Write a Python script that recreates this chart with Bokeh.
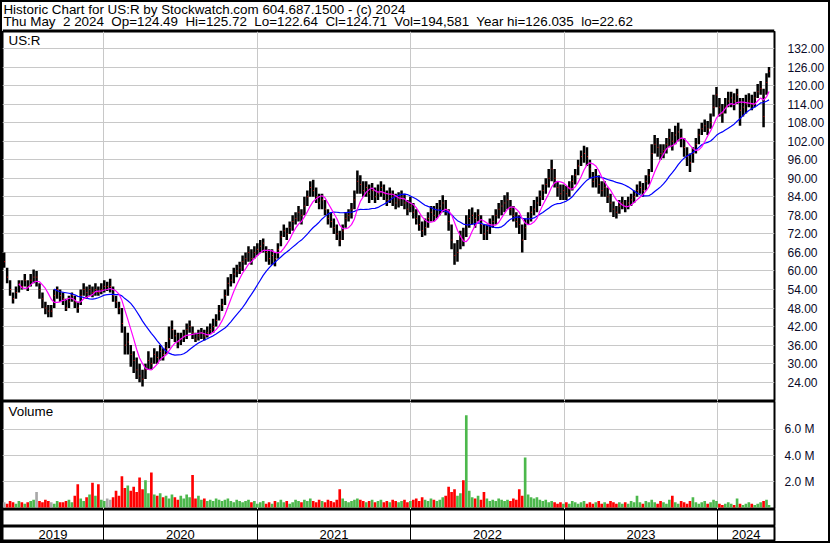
import pandas as pd
from bokeh.plotting import figure
from bokeh.layouts import column
from bokeh.models import Range1d, FixedTicker, ColumnDataSource, NumeralTickFormatter, Span
from bokeh.embed import file_html
from bokeh.resources import INLINE
from bokeh.core.properties import value

# ---------------- data (weekly) ----------------
first_week = "2019-05-10"
last_day = "2024-05-02"
view_start = "2019-05-06"
view_end = "2024-05-15"

closes = [63, 58, 54, 51, 53, 56, 55, 57, 55, 57,
          58, 58, 54, 51, 48, 47, 47, 52, 54, 52,
          51, 48, 50, 52, 50, 48, 52, 54, 53, 54,
          53, 54, 53, 54, 55, 55, 55, 52, 50, 48,
          43, 36, 37, 33, 31, 28, 26, 25, 28, 31,
          30, 33, 32, 34, 33, 35, 38, 41, 39, 37,
          38, 39, 41, 42, 40, 38, 39, 40, 39, 40,
          41, 42, 44, 47, 49, 52, 56, 57, 59, 60,
          61, 63, 64, 66, 64, 66, 67, 68, 69, 66,
          64, 65, 64, 67, 71, 73, 72, 74, 76, 77,
          79, 78, 81, 84, 87, 86, 84, 82, 83, 80,
          77, 76, 74, 72, 70, 73, 77, 78, 80, 83,
          89, 88, 86, 87, 85, 86, 84, 85, 87, 85,
          83, 85, 84, 82, 83, 84, 82, 80, 81, 79,
          77, 75, 73, 74, 77, 79, 78, 80, 81, 82,
          80, 76, 70, 65, 66, 71, 70, 75, 77, 78,
          77, 78, 75, 72, 73, 75, 76, 78, 80, 81,
          82, 83, 80, 78, 76, 75, 70, 74, 77, 79,
          80, 82, 84, 86, 88, 90, 93, 90, 87, 85,
          86, 85, 87, 89, 91, 94, 97, 98, 97, 93,
          89, 90, 88, 86, 87, 84, 82, 80, 79, 81,
          82, 81, 82, 83, 84, 86, 87, 86, 89, 91,
          98, 101, 100, 98, 99, 101, 103, 102, 104, 105,
          103, 100, 97, 95, 98, 101, 104, 106, 107, 106,
          108, 113, 117, 113, 111, 113, 115, 116, 115, 117,
          112, 113, 114, 115, 114, 116, 118, 119, 110, 121,
          124.71]

highs = [66, 61, 57, 53, 55, 57, 57, 59, 57, 59,
         60.5, 60, 56, 53, 50, 49, 49, 54, 55, 54,
         53, 51, 52, 53, 52, 50, 54, 56, 55, 55.5,
         55, 56, 55, 56, 57, 56.5, 57.5, 55, 52, 50,
         48, 42, 40, 36, 34, 32, 30, 28, 30, 34,
         32, 35, 34, 36, 35, 37, 42, 44, 41, 40,
         40, 41, 43, 44, 42, 40, 41, 41.5, 41, 42,
         43, 44.5, 46, 49, 51, 54, 58, 59, 61, 62,
         63, 65, 66, 68, 67, 68, 69, 70, 70.5, 68,
         67, 67, 66, 69, 73, 75, 74, 76, 78, 79,
         81, 80, 84, 86, 89, 89.5, 87, 85, 85, 83,
         80, 79, 77, 75, 73, 75, 79, 80, 82, 86,
         92.5, 91, 89, 89, 88, 88.5, 87, 88, 89, 88,
         86, 87, 86, 85, 85.5, 86, 85, 83, 84, 82,
         80, 78, 76, 77, 79, 81, 81, 82, 83, 84.5,
         83, 80, 75, 69, 70, 73, 74, 78, 80, 80.5,
         79, 80, 78, 75, 75, 77, 78, 80, 82, 83,
         84.5, 85.5, 83, 81, 79, 78, 75, 77, 79, 81,
         83, 84, 86, 88, 90, 93, 96, 93, 89, 88,
         88, 87.5, 89, 91, 93, 96, 99, 100.5, 100, 96,
         92, 93, 91, 89, 89, 87, 85, 82.5, 81, 83,
         84, 83, 84, 85, 86, 88, 89, 88.5, 91, 93,
         101, 104, 103, 101, 101, 103, 106, 105, 107, 108,
         106, 103, 100, 98, 100, 103, 106, 108, 109, 108.5,
         111, 117, 119.5, 116, 114, 116, 118, 118, 117.5, 119,
         116, 116, 117, 117.5, 117, 118, 120.5, 121.5, 119, 124,
         126]

lows = [61, 56, 52, 49.5, 51, 53, 54, 55, 53.5, 55,
        56, 55, 51, 48, 46, 45, 45, 48, 51, 50,
        49, 47, 48, 50, 48, 46.5, 49, 52, 51, 52,
        51.5, 52, 52, 52.5, 53, 53.5, 53, 50, 48, 46,
        40, 33, 33, 29, 27, 25, 24, 22.6, 25, 28,
        28, 30, 30, 31, 31, 33, 35, 38, 37, 35,
        36, 37, 38, 40, 38, 37, 37.5, 38, 37.5, 38.5,
        39.5, 40, 42, 44, 47, 49, 52, 55, 56, 58,
        59, 60, 62, 63, 62, 64, 65, 66, 66, 63,
        62, 62, 61.5, 64, 68, 71, 70, 72, 73, 75,
        76, 75, 78, 81, 84, 84, 82, 80, 80, 78,
        75, 74, 72, 70, 68, 70, 74, 76, 77, 80,
        85, 85, 84, 84, 82, 83, 82, 83, 84, 83,
        81, 82, 81, 80, 80.5, 81, 80, 78, 79, 77,
        75, 73, 71, 71.5, 74, 76, 76, 77, 78, 79,
        78, 73, 67, 62, 63, 67, 68, 71, 74, 75,
        74, 76, 72, 70, 70, 72, 74, 75, 77, 78,
        79, 80, 78, 76, 74, 72, 66, 70, 75, 76,
        78, 79, 81, 83, 85, 87, 89, 87, 84, 83,
        83, 83, 84, 86, 88, 91, 94, 95, 94, 90,
        87, 87, 85, 84, 84, 82, 79, 77.5, 77, 78.5,
        80, 79, 80, 81, 82, 84, 85, 84, 86, 88,
        92, 98, 97, 96, 96.5, 98, 100, 99, 101, 102,
        100, 97, 94, 92, 95, 98, 101, 104, 105, 104,
        106, 110, 113, 110, 108, 111, 113, 113, 112, 114,
        107, 110, 111, 113, 112, 113, 116, 117, 106.5, 117,
        122.64]

# daily volume level of each week, millions of shares
volumes = [0.4, 0.3, 0.5, 0.4, 0.3, 0.5, 0.4, 0.3, 0.4, 0.5,
           0.6, 1.2, 0.5, 0.4, 0.6, 0.5, 0.4, 0.3, 0.5, 0.4,
           0.4, 0.5, 0.6, 0.4, 0.9, 1.8, 0.7, 0.5, 0.8, 1.0,
           1.9, 0.9, 1.8, 0.6, 0.5, 0.7, 0.6, 0.8, 1.3, 0.9,
           2.4, 1.5, 1.7, 1.3, 1.6, 1.2, 2.3, 1.4, 2.1, 1.1,
           2.7, 1.0, 0.9, 1.1, 0.8, 0.9, 0.7, 1.0, 0.8, 0.6,
           0.9, 0.7, 1.0, 0.8, 2.5, 0.7, 0.9, 0.6, 0.7, 0.5,
           0.6, 0.5, 0.7, 0.6, 0.5, 0.6, 0.7, 0.5, 0.4, 0.6,
           0.5, 0.4, 0.5, 0.6, 0.4, 0.5, 0.3, 0.4, 0.5, 0.3,
           0.4, 0.3, 0.5, 0.4, 0.6, 0.4, 0.5, 0.3, 0.4, 0.6,
           0.5, 0.4, 0.6, 0.5, 0.7, 0.5, 0.4, 0.6, 0.5, 0.4,
           0.6, 0.5, 0.4, 0.6, 1.4, 0.7, 0.5, 0.4, 0.5, 0.6,
           0.7, 0.6, 0.5, 0.4, 0.5, 0.6, 0.4, 0.5, 0.6, 0.4,
           0.5, 0.4, 0.6, 0.5, 0.4, 0.5, 0.6, 0.4, 0.5, 0.6,
           0.7, 0.5, 0.8, 0.6, 0.5, 0.7, 0.6, 0.5, 0.6, 0.8,
           0.9, 1.6, 1.2, 1.4, 0.9, 1.1, 2.1, 7.1, 1.3, 0.8,
           0.7, 0.9, 0.6, 1.2, 0.7, 0.5, 0.6, 0.5, 0.7, 0.6,
           0.5, 0.6, 0.5, 0.7, 0.6, 1.4, 0.9, 3.85, 1.0, 0.8,
           0.7, 0.8, 0.6, 0.5, 0.6, 0.4, 0.5, 0.4, 0.3, 0.4,
           0.3, 0.4, 0.3, 0.5, 0.4, 0.3, 0.4, 0.5, 0.3, 0.4,
           0.3, 0.4, 0.5, 0.3, 0.4, 0.3, 0.5, 0.4, 0.3, 0.4,
           0.3, 0.4, 0.3, 0.5, 0.4, 0.9, 0.4, 0.3, 0.5, 0.4,
           0.6, 0.4, 0.3, 0.5, 0.4, 0.3, 0.6, 0.9, 0.4, 0.3,
           0.5, 0.4, 0.3, 0.5, 0.8, 0.4, 0.3, 0.4, 0.5, 0.3,
           0.4, 0.6, 0.5, 0.3, 0.2, 0.3, 0.4, 0.3, 0.2, 0.7,
           0.3, 0.2, 0.3, 0.4, 0.3, 0.2, 0.3, 0.4, 0.5, 0.6,
           0.2]

years = [2019, 2020, 2021, 2022, 2023, 2024]
price_ticks = [24, 30, 36, 42, 48, 54, 60, 66, 72, 78, 84, 90, 96, 102, 108, 114, 120, 126, 132]
volume_ticks = [2, 4, 6]
volume_tick_labels = ["2.0 M", "4.0 M", "6.0 M"]

NB = "\u00a0"
header_line1 = "Historic Chart for US:R by Stockwatch.com 604.687.1500 - (c) 2024"
header_line2 = (f"Thu May{NB} 2 2024{NB} Op=124.49{NB} Hi=125.72{NB} Lo=122.64{NB} Cl=124.71{NB} "
                f"Vol=194,581{NB} Year hi=126.035{NB} lo=22.62")
symbol_label = "US:R"
volume_label = "Volume"
fast_window = 6
slow_window = 18

# ---------------- layout constants ----------------
FONT = "Liberation Sans"
FW = 772          # width of the plotting frames
RW = 54           # right label column
TOTAL_W = FW + RW
H_HEAD, H_PRICE, H_VOL, H_BAND, H_YEAR = 29, 370, 108, 17, 15
DAY = 86400000.0

# ---------------- derived ----------------
n = len(closes)
dates = list(pd.date_range(first_week, periods=n, freq="7D"))
dates[-1] = pd.Timestamp(last_day)
xs = [d.value / 1e6 for d in dates]
x_start = pd.Timestamp(view_start).value / 1e6
x_end = pd.Timestamp(view_end).value / 1e6

prev = [closes[0]] + closes[:-1]
colors = ["#4cb84c" if c > p else ("#ff0000" if c < p else "#a8a8a8") for c, p in zip(closes, prev)]
s = pd.Series(closes, dtype=float)
ma_fast = s.rolling(fast_window).mean().tolist()
ma_slow = s.rolling(slow_window).mean().tolist()

src = ColumnDataSource(dict(
    x=xs, tick_end=[x + 2.0 * DAY for x in xs],
    high=highs, low=lows, close=closes, vol=volumes, color=colors,
    ma_fast=ma_fast, ma_slow=ma_slow))

year_ms = [pd.Timestamp(f"{y}-01-01").value / 1e6 for y in years[1:]]
year_mid = []
for y in years:
    a = max(x_start, pd.Timestamp(f"{y}-01-01").value / 1e6)
    b = min(x_end, pd.Timestamp(f"{y + 1}-01-01").value / 1e6)
    year_mid.append((a + b) / 2)

xr = Range1d(start=x_start, end=x_end)


def base_fig(h, yr, right_axis=True):
    f = figure(width=TOTAL_W, height=h, x_range=xr, y_range=yr,
               x_axis_location=None, y_axis_location="right" if right_axis else None,
               output_backend="svg", toolbar_location=None,
               min_border_left=0, min_border_right=RW, min_border_top=0, min_border_bottom=0,
               outline_line_color="black", outline_line_width=2, outline_line_alpha=1,
               background_fill_color="white", border_fill_color="white")
    f.xgrid.ticker = FixedTicker(ticks=year_ms)
    f.grid.grid_line_color = "#c8c8c8"
    f.grid.grid_line_width = 1
    if right_axis:
        ax = f.yaxis[0]
        ax.axis_line_color = None
        ax.major_tick_line_color = None
        ax.minor_tick_line_color = None
        ax.major_label_text_font = FONT
        ax.major_label_text_font_size = "12px"
        ax.major_label_text_color = "#0a0a28"
    return f


# header
hf = figure(width=TOTAL_W, height=H_HEAD, x_range=Range1d(0, TOTAL_W), y_range=Range1d(H_HEAD, 0),
            x_axis_location=None, y_axis_location=None, output_backend="svg",
            toolbar_location=None, min_border=0, outline_line_color=None)
hf.grid.visible = False
hf.text(x=[1, 1], y=[6.5, 19.3], text=[header_line1, header_line2], text_baseline="middle",
        text_font=value(FONT), text_font_size="13.4px", text_color="black")
hf.add_layout(Span(location=H_HEAD - 1, dimension="width", line_color="black", line_width=2))

# price panel
pf = base_fig(H_PRICE, Range1d(17.75, 137.5))
pf.yaxis.ticker = FixedTicker(ticks=price_ticks)
pf.yaxis.formatter = NumeralTickFormatter(format="0.00")
pf.yaxis.major_label_standoff = 7
pf.segment(x0="x", y0="low", x1="x", y1="high", source=src, line_color="black", line_width=2.5)
pf.segment(x0="x", y0="close", x1="tick_end", y1="close", source=src, line_color="#ff0000", line_width=1)
pf.line(x="x", y="ma_slow", source=src, line_color="#0000ff", line_width=1.2)
pf.line(x="x", y="ma_fast", source=src, line_color="#ff00ff", line_width=1.2)
pf.text(x=[x_start], y=[137.0], text=[symbol_label], x_offset=6, text_baseline="top",
        text_font=value(FONT), text_font_size="13.4px", text_color="black")

# volume panel
vf = base_fig(H_VOL, Range1d(-0.15, 8.15))
vf.yaxis.ticker = FixedTicker(ticks=volume_ticks)
vf.yaxis.major_label_overrides = dict(zip(volume_ticks, volume_tick_labels))
vf.yaxis.major_label_standoff = 4
vf.vbar(x="x", top="vol", bottom=0, width=6.3 * DAY, source=src, fill_color="color", line_color=None)
vf.text(x=[x_start], y=[7.95], text=[volume_label], x_offset=6, text_baseline="top",
        text_font=value(FONT), text_font_size="13.4px", text_color="black")

# empty date band
bf = base_fig(H_BAND, Range1d(0, 1), right_axis=False)
bf.xgrid.grid_line_color = "black"
bf.ygrid.visible = False

# year labels
yf = base_fig(H_YEAR, Range1d(0, 1), right_axis=False)
yf.xgrid.grid_line_color = "black"
yf.ygrid.visible = False
yf.text(x=year_mid, y=[0.45] * len(years), text=[str(y) for y in years], text_align="center",
        text_baseline="middle", text_font=value(FONT), text_font_size="13px", text_color="black")

layout = column(hf, pf, vf, bf, yf, spacing=0, styles={"border": "2px solid black"})

open("out.html", "w").write(file_html(layout, INLINE))
